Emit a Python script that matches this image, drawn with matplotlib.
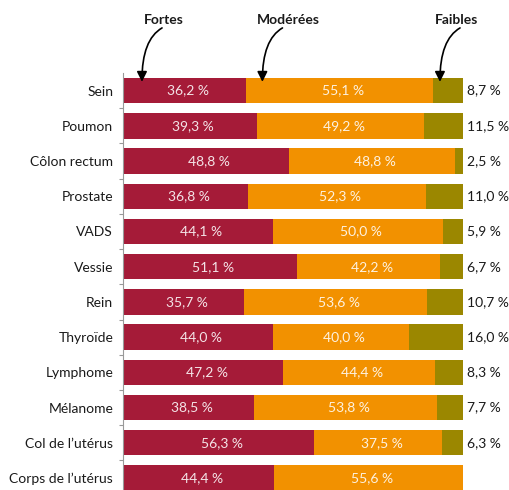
import matplotlib
matplotlib.use("Agg")
import matplotlib.pyplot as plt
import numpy as np

plt.rcParams['font.family'] = ['Lato', 'DejaVu Sans']

localisations = ["Sein", "Poumon", "Côlon rectum", "Prostate", "VADS", "Vessie",
                 "Rein", "Thyroïde", "Lymphome", "Mélanome", "Col de l’utérus",
                 "Corps de l’utérus"]
fortes = [36.2, 39.3, 48.8, 36.8, 44.1, 51.1, 35.7, 44.0, 47.2, 38.5, 56.3, 44.4]
moderees = [55.1, 49.2, 48.8, 52.3, 50.0, 42.2, 53.6, 40.0, 44.4, 53.8, 37.5, 55.6]
faibles = [8.7, 11.5, 2.5, 11.0, 5.9, 6.7, 10.7, 16.0, 8.3, 7.7, 6.3, 0.0]
series_names = ["Fortes", "Modérées", "Faibles"]
colors = ["#a51b38", "#f29100", "#9b8700"]


def fmt(v):
    return f"{v:.1f}".replace(".", ",") + " %"


fig = plt.figure(figsize=(5.1, 4.9), dpi=100)
ax = fig.add_axes([0.241, 0.0, 0.667, 0.851])

y = np.arange(len(localisations))
fortes = np.array(fortes)
moderees = np.array(moderees)
faibles = np.array(faibles)
h = 0.72

ax.barh(y, fortes, height=h, color=colors[0])
ax.barh(y, moderees, left=fortes, height=h, color=colors[1])
ax.barh(y, faibles, left=fortes + moderees, height=h, color=colors[2])

for i in range(len(y)):
    ax.text(fortes[i] / 2 + 1, y[i], fmt(fortes[i]), ha="center", va="center",
            color="white", alpha=0.88, fontsize=10)
    ax.text(fortes[i] + moderees[i] / 2 + 1, y[i], fmt(moderees[i]), ha="center",
            va="center", color="white", alpha=0.88, fontsize=10)
    if faibles[i] > 0:
        ax.text(101.2, y[i], fmt(faibles[i]), ha="left", va="center",
                color="#1a1a1a", fontsize=10)

ax.set_xlim(0, 100)
ax.set_ylim(11.34, -0.5)
ax.set_yticks(y)
ax.set_yticklabels(localisations, fontsize=10, color="#1a1a1a")
ax.set_yticks(y[:-1] + 0.5, minor=True)
ax.tick_params(axis="y", which="major", length=0, pad=7)
ax.tick_params(axis="y", which="minor", length=3, color="#999999", width=0.8)
ax.set_xticks([])
for s in ["top", "right", "bottom"]:
    ax.spines[s].set_visible(False)
ax.spines["left"].set_color("#999999")
ax.spines["left"].set_linewidth(0.8)

# series names above the first bar, each with a curved arrow down to its segment
text_x = [12.1, 48.7, 98.2]
arrow_from = [11.5, 46.9, 99.1]
arrow_to = [5.6, 41.0, 93.2]
for name, tx, x0, x1 in zip(series_names, text_x, arrow_from, arrow_to):
    ax.text(tx, -2.01, name, ha="center", va="center", fontsize=10,
            fontweight="bold", color="#1a1a1a")
    ax.annotate("", xy=(x1, -0.25), xytext=(x0, -1.78),
                annotation_clip=False,
                arrowprops=dict(arrowstyle="-|>", color="black", lw=1.2,
                                mutation_scale=15, shrinkA=0, shrinkB=0,
                                connectionstyle="angle3,angleA=30,angleB=90"))

fig.savefig("out.png", dpi=100)
